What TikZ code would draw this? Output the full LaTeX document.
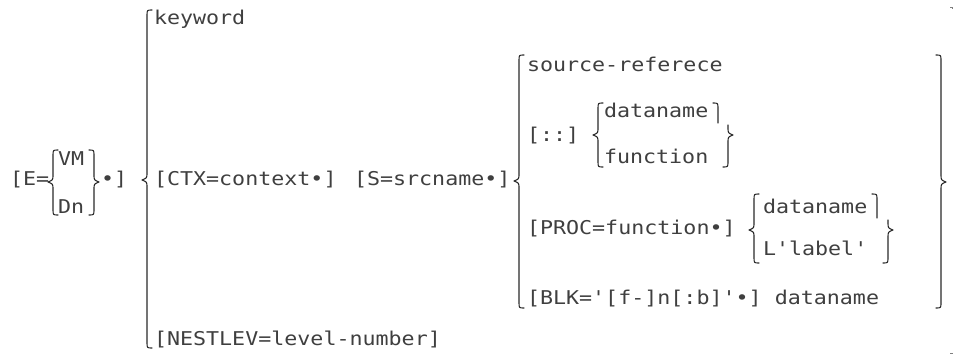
\documentclass[tikz,border=0pt]{standalone}
\usepackage{fontspec}
\newfontfamily\monofnt[FakeStretch=1.14]{DejaVu Sans Mono}
\definecolor{ink}{HTML}{2A2A2A}
\tikzset{
  txt/.style={anchor=base west, inner sep=0pt, outer sep=0pt, yshift=-6.9pt,
              font=\monofnt\fontsize{19}{21}\selectfont, text=ink!90},
  br/.style={draw=ink, line width=1.1pt, line cap=round, line join=round},
}
% left brace: x of stem, top y, tip y, bottom y
\newcommand\LBrc[4]{%
  \draw[br] ({#1+5},#2) .. controls (#1,#2) .. (#1,{#2+6}) -- (#1,{#3-7})
    .. controls (#1,{#3-2}) .. ({#1-5},#3) .. controls (#1,{#3+2}) .. (#1,{#3+7})
    -- (#1,{#4-6}) .. controls (#1,#4) .. ({#1+5},#4);}
% right brace
\newcommand\RBrc[4]{%
  \draw[br] ({#1-5},#2) .. controls (#1,#2) .. (#1,{#2+6}) -- (#1,{#3-7})
    .. controls (#1,{#3-2}) .. ({#1+5},#3) .. controls (#1,{#3+2}) .. (#1,{#3+7})
    -- (#1,{#4-6}) .. controls (#1,#4) .. ({#1-5},#4);}
% irregular right brace: top stem x, top y, top end y, lower stem x, tip y, bottom y
\newcommand\RBrcSplit[6]{%
  \draw[br] ({#1-5},#2) .. controls (#1,#2) .. (#1,{#2+6}) -- (#1,#3);
  \draw[br] (#4,{#5-10}) -- (#4,{#5-7}) .. controls (#4,{#5-2}) .. ({#4+5},#5)
    .. controls (#4,{#5+2}) .. (#4,{#5+7}) -- (#4,{#6-6}) .. controls (#4,#6) .. ({#4-5},#6);}
\begin{document}
\begin{tikzpicture}[x=1pt,y=-1pt]
\useasboundingbox (0,0) rectangle (953,356);

% E= group
\node[txt] (e1) at (10,179) {[E=};
\LBrc{53}{150}{182}{215}
\node[txt] (vm) at (58,159) {VM};
\node[txt] (dn) at (58,207) {Dn};
\RBrc{94}{150}{182}{215}
\node[txt] (e2) at (101,179) {•]};

% main brace
\LBrc{147}{10}{180}{348}
\node[txt] (kw) at (154,18) {keyword};
\node[txt] (ctx) at (154,179) {[CTX=context•]};
\node[txt] (src) at (354,179) {[S=srcname•]};
\node[txt] (nest) at (154,339) {[NESTLEV=level-number]};

% S brace
\LBrc{519}{55}{181}{308}
\node[txt] (sref) at (527,65) {source-referece};
\node[txt] (cc) at (527,135) {[::]};
\LBrc{598}{103}{135}{167}
\node[txt] (dn1) at (604,111) {dataname};
\node[txt] (fn1) at (604,157) {function};
\RBrcSplit{718}{103}{123}{728}{135}{167}

\node[txt] (proc) at (527,228) {[PROC=function•]};
\LBrc{754}{194}{230}{263}
\node[txt] (dn2) at (763,207) {dataname};
\node[txt] (lab) at (763,249) {L'label'};
\RBrcSplit{877}{194}{218}{888}{230}{263}

\node[txt] (blk) at (527,298) {[BLK='[f-]n[:b]'•] dataname};

% big right brace
\RBrc{941}{55}{182}{308}

% corner marks
\draw[ink!60, line width=0.8pt] (950,7) -- (952.5,7) -- (952.5,9);
\draw[ink!60, line width=0.8pt] (950,353) -- (952.5,353);
\end{tikzpicture}
\end{document}
